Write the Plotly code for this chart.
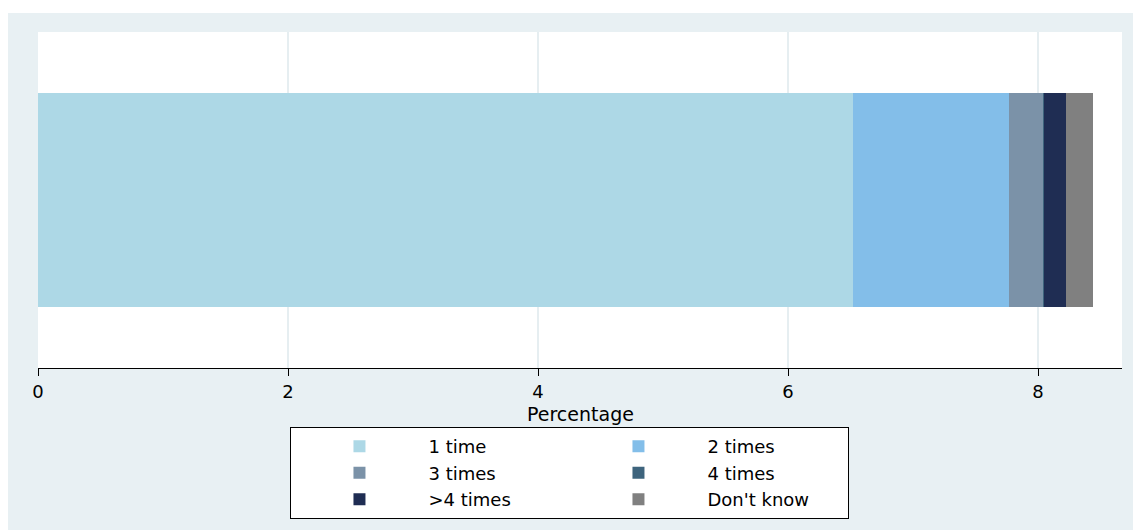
import plotly.graph_objects as go

# ── DATOS ──────────────────────────────────────────────────────
categorias = ["1 time", "2 times", "3 times", "4 times", ">4 times", "Don't know"]
porcentajes = [6.52, 1.25, 0.27, 0.01, 0.17, 0.22]
colores = ["#add8e6", "#83bee9", "#7b92a8", "#3e647d", "#1f2d53", "#808080"]
# columna de la leyenda (Stata la arma en 2 columnas)
grupos = ["a", "b", "a", "b", "a", "b"]
ticks_x = [0, 2, 4, 6, 8]
titulo_x = "Percentage"

FUENTE = "DejaVu Sans"
FONDO = "#e8f0f3"

fig = go.Figure()
for cat, val, col, g in zip(categorias, porcentajes, colores, grupos):
    fig.add_trace(go.Bar(
        x=[val], y=[0], orientation="h", name=cat,
        marker=dict(color=col, line=dict(width=0)),
        width=0.637, legendgroup=g, hoverinfo="x+name",
    ))

# fondo gris-celeste exterior y area blanca del grafico
fig.add_shape(type="rect", xref="paper", yref="paper",
              x0=-0.0277, x1=1.05, y0=-0.6, y1=1.0565,
              fillcolor=FONDO, line=dict(width=0), layer="below")
fig.add_shape(type="rect", xref="paper", yref="paper",
              x0=0, x1=1, y0=0, y1=1,
              fillcolor="white", line=dict(width=0), layer="below")

# titulo del eje x como anotacion (mas pegado a los ticks, como Stata)
fig.add_annotation(text=titulo_x, xref="paper", yref="paper",
                   x=0.5, y=0, yshift=-46, yanchor="middle",
                   showarrow=False, font=dict(size=19))

fig.update_layout(
    width=1133, height=522,
    margin=dict(l=30, r=19, t=24, b=162),
    paper_bgcolor="white", plot_bgcolor="rgba(0,0,0,0)",
    barmode="stack",
    font=dict(family=FUENTE, size=18, color="black"),
    legend=dict(
        orientation="h", traceorder="grouped",
        xref="container", yref="container",
        x=0.496, xanchor="center", y=0.197, yanchor="top",
        bgcolor="white", bordercolor="black", borderwidth=1,
        font=dict(size=18), tracegroupgap=40, entrywidth=136,
        itemwidth=128,
    ),
    xaxis=dict(
        range=[0, 8.672], tickvals=ticks_x,
        showgrid=True, gridcolor="#e6eef1", gridwidth=2,
        showline=True, linecolor="black", linewidth=1,
        ticks="outside", ticklen=7, tickcolor="black",
        ticklabelstandoff=0, zeroline=False,
    ),
    yaxis=dict(
        range=[-0.5, 0.5], showticklabels=False, showgrid=False,
        zeroline=False, showline=False, ticks="",
    ),
)

fig.write_html("out.html")
